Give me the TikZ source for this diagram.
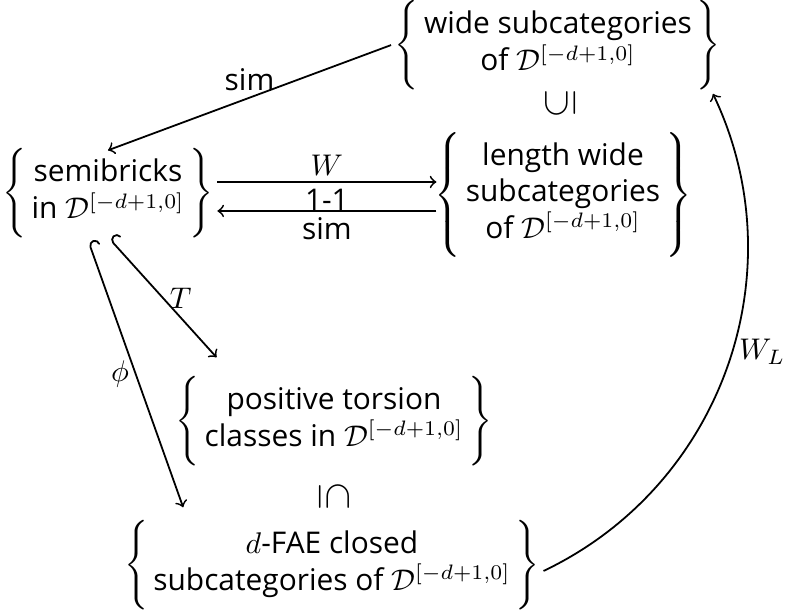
\documentclass[tikz,border=0pt]{standalone}
\usepackage[no-math]{fontspec}
\setmainfont{Open Sans}
\usepackage{graphicx}
\usetikzlibrary{arrows, calc}
\delimiterfactor=1000
\delimitershortfall=-1pt

\begin{document}
\begin{tikzpicture}[
    >=to,
    line width=0.6pt,
    set/.style   ={inner sep=1pt},
    incl/.style  ={inner sep=0pt},
    lbl/.style   ={inner sep=2pt}
]
\useasboundingbox (0,0) rectangle (9.255,-7.232);

% Sets
\node[set] (semi)  at (1.270,-2.270)
    {$\left\{\begin{tabular}{@{\,}c@{\,}}semibricks\\in $\mathcal{D}^{[-d+1,0]}$\end{tabular}\right\}$};
\node[set] (wide)  at (6.562,-0.530)
    {$\left\{\begin{tabular}{@{\,}c@{\,}}wide subcategories\\of $\mathcal{D}^{[-d+1,0]}$\end{tabular}\right\}$};
\node[set] (lwide) at (6.621,-2.293)
    {$\left\{\begin{tabular}{@{\,}c@{\,}}length wide\\subcategories\\of $\mathcal{D}^{[-d+1,0]}$\end{tabular}\right\}$};
\node[set] (pos)   at (3.928,-4.951)
    {$\left\{\begin{tabular}{@{\,}c@{\,}}positive torsion\\classes in $\mathcal{D}^{[-d+1,0]}$\end{tabular}\right\}$};
\node[set] (fae)   at (3.904,-6.644)
    {$\left\{\begin{tabular}{@{\,}c@{\,}}$d$-FAE closed\\subcategories of $\mathcal{D}^{[-d+1,0]}$\end{tabular}\right\}$};

% Inclusions
\node[incl] (sub1) at (6.586,-1.211) {\scalebox{1.3}{\rotatebox{90}{$\subseteq$}}};
\node[incl] (sub2) at (3.928,-5.845) {\scalebox{1.3}{\rotatebox{-90}{$\subseteq$}}};

% --- Arrows ---
\draw[->] (wide.west) -- ([yshift=-2pt]semi.north)
    node[lbl, midway, above] {sim};
\draw[->] ([yshift=3.7pt]semi.east) -- ([xshift=2pt,yshift=3.7pt]semi.east -| lwide.west)
    node[lbl, midway, above] {$W$}
    node[lbl, midway, below] {1-1};
\draw[->] ([xshift=2pt,yshift=-6pt]semi.east -| lwide.west) -- ([yshift=-6pt]semi.east)
    node[lbl, midway, below] {sim};
\draw[right hook->] ([xshift=0.5pt,yshift=1pt]semi.south) -- ([xshift=15pt,yshift=5pt]pos.north west)
    node[lbl, midway, right] {$T$};
\draw[right hook->] ([xshift=-6.5pt]semi.south) -- ([xshift=21pt,yshift=3pt]fae.north west)
    node[lbl, midway, left] {$\phi$};
\draw[->] ([yshift=-2pt]fae.east) to[bend right=45]
    node[lbl, pos=0.53, right] {$W_L$} ([xshift=-4pt]wide.south east);

\end{tikzpicture}
\end{document}
